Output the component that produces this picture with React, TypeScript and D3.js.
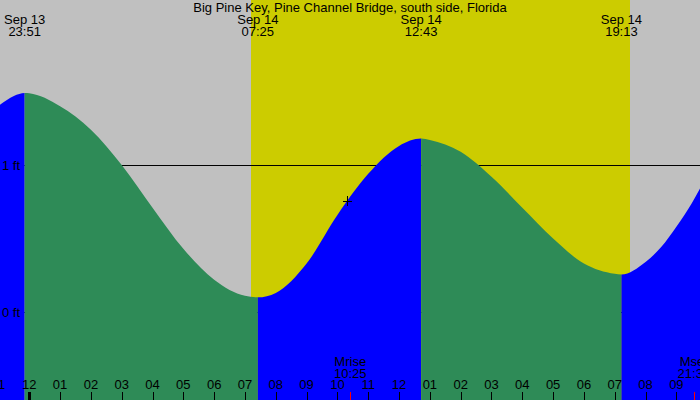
import React from 'react';
import * as d3 from 'd3';

const title = 'Big Pine Key, Pine Channel Bridge, south side, Florida';

// window of the chart
const windowStart = '13 23:03';
const windowEnd = '14 21:46';

// tide height read at the hours and at the turning points
const curveTimes = [
  '13 23:03', '13 23:30', '13 23:51', '14 00:00', '14 01:00', '14 02:00', '14 03:00',
  '14 04:00', '14 05:00', '14 06:00', '14 07:00', '14 07:25', '14 08:00', '14 09:00',
  '14 10:00', '14 11:00', '14 12:00', '14 12:43', '14 13:00', '14 14:00', '14 15:00',
  '14 16:00', '14 17:00', '14 18:00', '14 19:00', '14 19:13', '14 20:00', '14 20:30',
  '14 21:00', '14 21:30', '14 21:46',
];
const curveLevels = [
  1.41, 1.47, 1.49, 1.488, 1.4, 1.24, 1.0,
  0.71, 0.43, 0.22, 0.11, 0.1, 0.13, 0.33,
  0.66, 0.94, 1.13, 1.18, 1.17, 1.09, 0.92,
  0.71, 0.5, 0.33, 0.26, 0.255, 0.34, 0.44,
  0.58, 0.74, 0.84,
];

// high / low tide events
const eventTimes = ['13 23:51', '14 07:25', '14 12:43', '14 19:13'];
const eventKinds = ['high', 'low', 'high', 'low'];
const eventDates = ['Sep 13', 'Sep 14', 'Sep 14', 'Sep 14'];
const eventLabels = ['23:51', '07:25', '12:43', '19:13'];

// daylight
const sunrise = '14 07:12';
const sunset = '14 19:30';

// moon
const moonTimes = ['14 10:25', '14 21:34'];
const moonNames = ['Mrise', 'Mset'];
const moonLabels = ['10:25', '21:34'];

// current time marker
const markerTime = '14 10:19';
const markerLevel = 0.755;

const levelTicks = [0, 1];

const W = 700;
const H = 400;
const font = '"Liberation Sans", Arial, sans-serif';

const parse = d3.timeParse('%Y-%m-%d %H:%M');
const toDate = (s: string) => parse('2024-09-' + s) as Date;

export default function App() {
  const x = d3.scaleTime().domain([toDate(windowStart), toDate(windowEnd)]).range([0, W]);
  const y = d3.scaleLinear().domain([0, 1]).range([312, 165]);

  const pts = curveTimes.map((t, i) => ({ t: toDate(t), v: curveLevels[i] }));
  const area = d3
    .area<{ t: Date; v: number }>()
    .x((d) => x(d.t))
    .y0(H)
    .y1((d) => y(d.v))
    .curve(d3.curveMonotoneX);
  const areaPath = area(pts) || '';

  // segments between turning points, blue when rising, green when falling
  const bounds = [toDate(windowStart), ...eventTimes.map(toDate), toDate(windowEnd)];
  const segments = bounds.slice(0, -1).map((b, i) => {
    const rising = i < eventKinds.length ? eventKinds[i] === 'high' : eventKinds[i - 1] === 'low';
    return { x0: x(b), x1: x(bounds[i + 1]), color: rising ? '#0000ff' : '#2e8b57' };
  });

  const hours = d3.timeHour.range(d3.timeHour.offset(toDate(windowStart), -1), d3.timeHour.offset(toDate(windowEnd), 1));
  const fmt = d3.timeFormat('%I');

  const mx = x(toDate(markerTime));
  const my = y(markerLevel);

  return (
    <svg
      width={W}
      height={H}
      style={{ position: 'absolute', left: 0, top: 0, display: 'block' }}
      fontFamily={font}
    >
      <defs>
        {segments.map((s, i) => (
          <clipPath id={'seg' + i} key={i}>
            <rect x={s.x0} y={0} width={s.x1 - s.x0} height={H} />
          </clipPath>
        ))}
      </defs>
      <rect x={0} y={0} width={W} height={H} fill="#c0c0c0" />
      <rect
        x={x(toDate(sunrise))}
        y={0}
        width={x(toDate(sunset)) - x(toDate(sunrise))}
        height={H}
        fill="#cccc00"
        shapeRendering="crispEdges"
      />
      {levelTicks.map((v) => (
        <line key={v} x1={0} x2={W} y1={Math.round(y(v)) + 0.5} y2={Math.round(y(v)) + 0.5} stroke="#000" />
      ))}
      {segments.map((s, i) => (
        <path key={i} d={areaPath} fill={s.color} clipPath={`url(#seg${i})`} />
      ))}
      {levelTicks.map((v) => (
        <text key={v} x={2} y={y(v) + 4.5} fontSize={13} fill="#000">
          {v} ft
        </text>
      ))}
      <text x={W / 2} y={12} textAnchor="middle" fontSize={13} fill="#000">
        {title}
      </text>
      {eventTimes.map((t, i) => (
        <g key={t} transform={`translate(${x(toDate(t))},0)`} textAnchor="middle" fontSize={13} fill="#000">
          <text y={24}>{eventDates[i]}</text>
          <text y={36}>{eventLabels[i]}</text>
        </g>
      ))}
      {hours.map((h) => {
        const hx = Math.round(x(h));
        const midnight = h.getHours() === 0;
        return (
          <g key={+h}>
            <rect x={midnight ? hx - 1 : hx} y={392} width={midnight ? 3 : 1} height={8} fill="#000" />
            <text x={x(h)} y={389} textAnchor="middle" fontSize={13} fill="#000">
              {fmt(h)}
            </text>
          </g>
        );
      })}
      {moonTimes.map((t, i) => {
        const tx = x(toDate(t));
        return (
          <g key={t}>
            <rect x={Math.round(tx)} y={392} width={1} height={8} fill="#ff0000" />
            <text x={tx} y={366} textAnchor="middle" fontSize={13} fill="#000">
              {moonNames[i]}
            </text>
            <text x={tx} y={378} textAnchor="middle" fontSize={13} fill="#000">
              {moonLabels[i]}
            </text>
          </g>
        );
      })}
      <g stroke="#000" shapeRendering="crispEdges">
        <line x1={mx - 4} x2={mx + 5} y1={Math.round(my) + 0.5} y2={Math.round(my) + 0.5} />
        <line x1={Math.round(mx) + 0.5} x2={Math.round(mx) + 0.5} y1={my - 5} y2={my + 5} />
      </g>
    </svg>
  );
}
